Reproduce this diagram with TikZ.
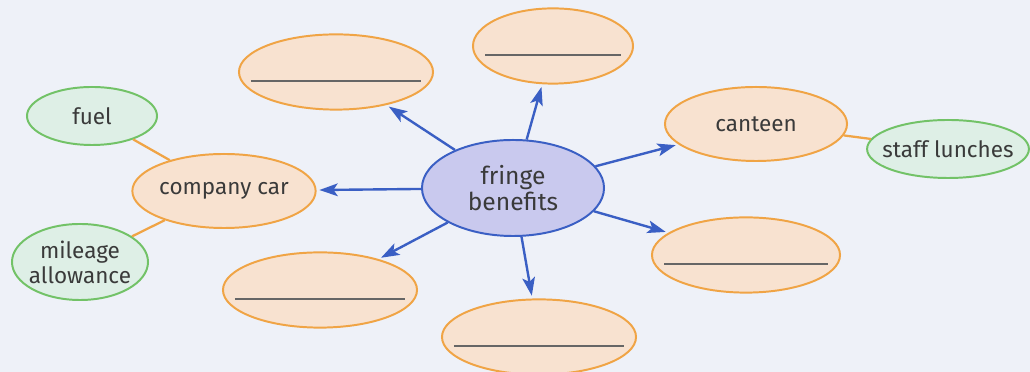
\documentclass[tikz,border=0pt]{standalone}
\usepackage{xcolor}
\usepackage{fontspec}
\setmainfont{Fira Sans}
\usetikzlibrary{arrows.meta,shapes.geometric,calc}

\definecolor{paper}{HTML}{EEF1F8}
\definecolor{hubfill}{HTML}{C9C9EE}
\definecolor{hubline}{HTML}{3A5FC4}
\definecolor{peach}{HTML}{F8E2D0}
\definecolor{orangeline}{HTML}{F0A445}
\definecolor{mint}{HTML}{DEEFE6}
\definecolor{greenline}{HTML}{72C267}
\definecolor{inkgray}{HTML}{3A3A3A}

\begin{document}
\begin{tikzpicture}[x=0.025cm,y=0.025cm,
    every node/.style={font=\fontsize{16}{17.7}\selectfont,text=inkgray,align=center},
    hub/.style={ellipse,draw=hubline,fill=hubfill,line width=1.4pt,inner sep=0pt,
                minimum width=4.55cm,minimum height=2.4cm,font=\fontsize{17.5}{18}\selectfont},
    item/.style={ellipse,draw=orangeline,fill=peach,line width=1.4pt,inner sep=0pt,
                 minimum width=4.55cm,minimum height=1.85cm},
    blank/.style={item,minimum width=4.85cm,minimum height=1.88cm},
    leaf/.style={ellipse,draw=greenline,fill=mint,line width=1.4pt,
                 inner xsep=-6pt,inner ysep=0pt},
    spoke/.style={hubline,line width=1.7pt,shorten >=2pt,
                  -{Stealth[length=13pt,width=9pt,inset=3pt]}},
    twig/.style={orangeline,line width=1.6pt},
    blankline/.style={gray!80!black,line width=1pt}]

    % background
    \fill[paper] (0,0) rectangle (1030,372);
    \useasboundingbox (0,0) rectangle (1030,372);

    % centre and the named items
    \node[hub] (fb) at (513,184) {fringe\\benefits};
    \node[item] (car) at (224,181) {company car};
    \node[item] (canteen) at (756,248) {canteen};

    % blank items
    \node[blank] (b1) at (336,300) {};
    \node[blank,minimum width=4cm] (b2) at (553,326) {};
    \node[blank,minimum width=4.7cm] (b3) at (746,117) {};
    \node[blank] (b4) at (539,35) {};
    \node[blank] (b5) at (320,82) {};

    % green leaves
    \node[leaf,minimum width=3.25cm,minimum height=1.45cm] (fuel) at (92,256) {fuel};
    \node[leaf,minimum width=3.4cm,minimum height=1.9cm] (mileage) at (80,110) {mileage\\allowance};
    \node[leaf,minimum width=4.02cm,minimum height=1.45cm] (lunch) at (948,223) {staff lunches};

    % writing lines in the blanks
    \foreach \b in {b1,b2,b3,b4,b5}
        \draw[blankline] ($(\b.west)+(13,-9)$) -- ($(\b.east)+(-13,-9)$);

    % arrows out of the centre
    \foreach \t in {car,b1,b2,canteen,b3,b4,b5}
        \draw[spoke] (fb) -- (\t);

    % links to the leaves
    \draw[twig] (car) -- (fuel);
    \draw[twig] (car) -- (mileage);
    \draw[twig] (canteen) -- (lunch);

\end{tikzpicture}
\end{document}
